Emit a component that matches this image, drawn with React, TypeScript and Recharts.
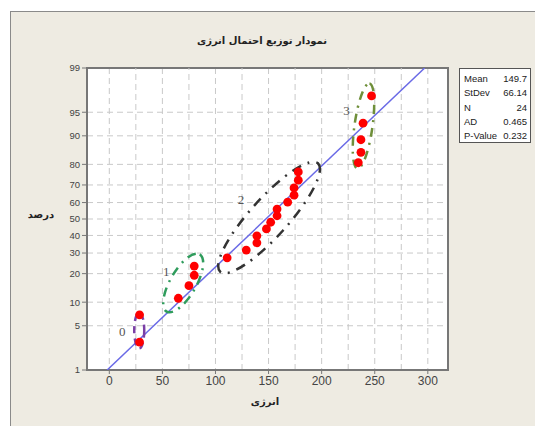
import React from "react";
import { ScatterChart, Scatter, XAxis, YAxis, CartesianGrid, ReferenceLine, ReferenceArea, ReferenceDot } from "recharts";

const energy = [28.5, 28.5, 65, 75, 80, 80, 111, 129, 139, 139, 148, 152, 158, 158, 168, 174, 174, 178, 178, 234.5, 237, 237, 239, 247];
// plotting positions in percent
const percents = [2.9, 7.0, 11.1, 15.2, 19.3, 23.4, 27.5, 31.6, 35.7, 39.8, 43.9, 48.0, 52.0, 56.1, 60.2, 64.3, 68.4, 72.5, 76.6, 80.7, 84.8, 88.9, 93.0, 97.1];

// fitted line end points (energy, percent)
const fitEnergy = [-2, 297];
const fitPercents = [1, 99];

const yTickPercents = [1, 5, 10, 20, 30, 40, 50, 60, 70, 80, 90, 95, 99];
const xTicks = [0, 50, 100, 150, 200, 250, 300];
const xMinorGrid = [25, 75, 125, 175, 225, 275];

const statLabels = ["Mean", "StDev", "N", "AD", "P-Value"];
const statValues = ["149.7", "66.14", "24", "0.465", "0.232"];

// hand drawn group marks: label, centre energy, centre percent
const groupLabels = ["0", "1", "2", "3"];
const groupEnergy = [28.2, 69.6, 150.5, 239.4];
const groupPercents = [4.3, 16.2, 50.9, 92.4];

// inverse normal cdf (Acklam)
function probit(p: number) {
  const a = [-39.69683028665376, 220.9460984245205, -275.9285104469687, 138.357751867269, -30.66479806614716, 2.506628277459239];
  const b = [-54.47609879822406, 161.5858368580409, -155.6989798598866, 66.80131188771972, -13.28068155288572];
  const c = [-0.007784894002430293, -0.3223964580411365, -2.400758277161838, -2.549732539343734, 4.374664141464968, 2.938163982698783];
  const d = [0.007784695709041462, 0.3224671290700398, 2.445134137142996, 3.754408661907416];
  const pl = 0.02425;
  if (p < pl) {
    const q = Math.sqrt(-2 * Math.log(p));
    return (((((c[0] * q + c[1]) * q + c[2]) * q + c[3]) * q + c[4]) * q + c[5]) / ((((d[0] * q + d[1]) * q + d[2]) * q + d[3]) * q + 1);
  }
  if (p > 1 - pl) {
    const q = Math.sqrt(-2 * Math.log(1 - p));
    return -(((((c[0] * q + c[1]) * q + c[2]) * q + c[3]) * q + c[4]) * q + c[5]) / ((((d[0] * q + d[1]) * q + d[2]) * q + d[3]) * q + 1);
  }
  const q = p - 0.5;
  const r = q * q;
  return ((((((a[0] * r + a[1]) * r + a[2]) * r + a[3]) * r + a[4]) * r + a[5]) * q) / (((((b[0] * r + b[1]) * r + b[2]) * r + b[3]) * r + b[4]) * r + 1);
}

const z = (pct: number) => probit(pct / 100);

const points = energy.map((x, i) => ({ x, y: z(percents[i]) }));
const fitLine = fitEnergy.map((x, i) => ({ x, y: z(fitPercents[i]) }));
const yTicks = yTickPercents.map(z);
const yMin = z(1);
const yMax = z(99);
const xDomain = [-21, 319];

const groupStyle = [
  { color: "#7a3fa6", rx: 5, ry: 18, angle: 0, dash: "7 5", lx: -17, ly: 3 },
  { color: "#2f9c5c", rx: 33, ry: 13, angle: -60, dash: "9 6 2 6", lx: -17, ly: -10 },
  { color: "#333333", rx: 73, ry: 19, angle: -48, dash: "10 7 2 7", lx: -28, ly: -17 },
  { color: "#6f8f3a", rx: 43, ry: 9, angle: -82, dash: "9 6 2 6", lx: -17, ly: -14 },
];

const tickStyle = { fontFamily: "Liberation Sans, Arial", fill: "#444" };

export default function App() {
  return (
    <div style={{ position: "absolute", left: 0, top: 0, width: 535, height: 426, background: "#fff", overflow: "hidden" }}>
      <div style={{ position: "absolute", left: 10, top: 11, width: 540, height: 430, background: "#eeebe2", borderLeft: "1px solid #8a8a8a", borderTop: "1px solid #8a8a8a" }} />
      <div style={{ position: "absolute", left: 0, top: 0 }}>
        <ScatterChart width={535} height={426} margin={{ top: 68, right: 87, bottom: 26, left: 47 }}>
          <CartesianGrid fill="#fff" stroke="#c9c9c9" strokeDasharray="6 4" />
          {xMinorGrid.map((v) => (
            <ReferenceLine key={v} x={v} stroke="#c9c9c9" strokeDasharray="6 4" />
          ))}
          <XAxis
            type="number"
            dataKey="x"
            domain={xDomain}
            ticks={xTicks}
            interval={0}
            tickSize={4}
            height={30}
            axisLine={{ stroke: "#777", strokeWidth: 2 }}
            tickLine={{ stroke: "#777" }}
            tick={{ ...tickStyle, fontSize: 12 }}
            allowDataOverflow
          />
          <YAxis
            type="number"
            dataKey="y"
            domain={[yMin, yMax]}
            ticks={yTicks}
            interval={0}
            width={40}
            tickSize={5}
            axisLine={{ stroke: "#777", strokeWidth: 2 }}
            tickLine={{ stroke: "#777" }}
            tick={{ ...tickStyle, fontSize: 9.5 }}
            tickFormatter={(v: number) => {
              const k = yTicks.findIndex((t) => Math.abs(t - v) < 1e-6);
              return k >= 0 ? String(yTickPercents[k]) : "";
            }}
            allowDataOverflow
          />
          <ReferenceArea x1={xDomain[0]} x2={xDomain[1]} y1={yMin} y2={yMax} fill="none" stroke="#777" strokeWidth={2} />
          <Scatter
            data={fitLine}
            line={{ stroke: "#6a6ae6", strokeWidth: 1.5 }}
            shape={() => <g />}
            isAnimationActive={false}
          />
          {groupLabels.map((lab, i) => {
            const s = groupStyle[i];
            return (
              <ReferenceDot
                key={lab}
                x={groupEnergy[i]}
                y={z(groupPercents[i])}
                r={1}
                ifOverflow="visible"
                shape={(p: any) => (
                  <g>
                    <ellipse
                      cx={p.cx}
                      cy={p.cy}
                      rx={s.rx}
                      ry={s.ry}
                      transform={`rotate(${s.angle} ${p.cx} ${p.cy})`}
                      fill="none"
                      stroke={s.color}
                      strokeWidth={2.5}
                      strokeDasharray={s.dash}
                    />
                    <text x={p.cx + s.lx} y={p.cy + s.ly} fontSize={13} fontFamily="Liberation Serif" fill="#555" textAnchor="middle" dominantBaseline="middle">
                      {lab}
                    </text>
                  </g>
                )}
              />
            );
          })}
          <Scatter
            data={points}
            shape={(p: any) => <circle cx={p.cx} cy={p.cy} r={4.4} fill="#ff0000" />}
            isAnimationActive={false}
          />
        </ScatterChart>
      </div>
      <div style={{ position: "absolute", left: 162, top: 35, width: 200, textAlign: "center", direction: "rtl", fontFamily: "DejaVu Sans", fontWeight: "bold", fontSize: 10, color: "#222" }}>
        نمودار توزیع احتمال انرژی
      </div>
      <div style={{ position: "absolute", left: 15, top: 209, width: 52, textAlign: "center", direction: "rtl", fontFamily: "DejaVu Sans", fontWeight: "bold", fontSize: 10, color: "#222" }}>
        درصد
      </div>
      <div style={{ position: "absolute", left: 220, top: 396, width: 90, textAlign: "center", direction: "rtl", fontFamily: "DejaVu Sans", fontWeight: "bold", fontSize: 10, color: "#222" }}>
        انرژی
      </div>
      <div style={{ position: "absolute", left: 459, top: 68, width: 72, height: 75, boxSizing: "border-box", border: "1.5px solid #555", background: "#fff", padding: "3px 3px 0 4px", fontFamily: "Liberation Sans, Arial", fontSize: 9.5, color: "#222" }}>
        {statLabels.map((l, i) => (
          <div key={l} style={{ display: "flex", justifyContent: "space-between", lineHeight: "14.3px" }}>
            <span>{l}</span>
            <span>{statValues[i]}</span>
          </div>
        ))}
      </div>
    </div>
  );
}
